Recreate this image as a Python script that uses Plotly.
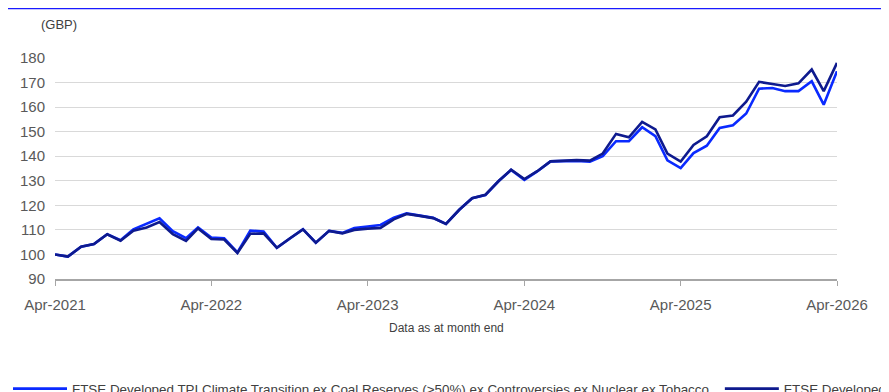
import pandas as pd
import plotly.graph_objects as go

# Monthly index levels (GBP), Apr-2021 .. Apr-2026
months = pd.date_range("2021-04-01", "2026-04-01", freq="MS")

tpi_climate = [
    100.0, 99.1, 103.1, 104.2, 108.2, 105.8, 110.2, 112.5, 114.7, 109.5,
    106.6, 111.0, 106.9, 106.6, 100.8, 109.7, 109.3, 102.7, 106.5, 110.3,
    104.8, 109.6, 108.8, 110.8, 111.4, 112.0, 115.0, 116.7, 115.8, 114.9,
    112.4, 118.2, 122.9, 124.2, 129.9, 134.4, 130.4, 133.8, 137.9, 138.1,
    138.1, 137.8, 140.0, 146.1, 146.1, 151.8, 148.2, 138.3, 135.2, 141.3,
    144.3, 151.5, 152.6, 157.4, 167.5, 167.8, 166.5, 166.5, 170.5, 161.0,
    174.6,
]
developed = [
    100.0, 99.1, 103.1, 104.2, 108.2, 105.6, 109.7, 111.0, 113.2, 108.3,
    105.5, 110.6, 106.3, 106.1, 100.6, 108.4, 108.6, 102.7, 106.5, 110.2,
    104.8, 109.6, 108.6, 110.0, 110.5, 110.8, 114.3, 116.5, 115.7, 114.8,
    112.4, 118.2, 122.9, 124.3, 129.9, 134.5, 130.7, 133.9, 137.9, 138.2,
    138.4, 138.2, 141.1, 149.1, 147.7, 154.0, 150.9, 141.1, 137.8, 144.6,
    148.1, 155.9, 156.6, 162.2, 170.3, 169.4, 168.6, 169.7, 175.3, 166.5,
    178.0,
]

names = [
    "FTSE Developed TPI Climate Transition ex Coal Reserves (>50%) ex Controversies ex Nuclear ex Tobacco",
    "FTSE Developed",
]
tick_dates = pd.date_range("2021-04-01", "2026-04-01", freq="12MS")
y_ticks = list(range(90, 190, 10))

font = "Liberation Sans, Arial, sans-serif"
grey = "#595959"

# page body adds an 8px margin, so the figure is sized to fit the window
W, H = 881, 384

fig = go.Figure()
fig.add_trace(
    go.Scatter(x=months, y=tpi_climate, name=names[0], mode="lines",
               line=dict(color="#0a2aff", width=2.6), legend="legend")
)
fig.add_trace(
    go.Scatter(x=months, y=developed, name=names[1], mode="lines",
               line=dict(color="#0e1a8e", width=2.6), legend="legend2")
)

legend_style = dict(
    orientation="h", xref="container", yref="container",
    xanchor="left", yanchor="middle", y=0.008,
    font=dict(family=font, size=13.4, color="#404040"),
    bgcolor="rgba(0,0,0,0)", itemwidth=54,
)

fig.update_layout(
    width=W,
    height=H,
    margin=dict(l=41, r=52, t=50, b=113),
    paper_bgcolor="white",
    plot_bgcolor="white",
    font=dict(family=font, color=grey),
    showlegend=True,
    legend=dict(legend_style, x=0.0),
    legend2=dict(legend_style, x=0.808),
    xaxis=dict(
        range=[months[0], months[-1]],
        tickvals=tick_dates,
        ticktext=[d.strftime("%b-%Y") for d in tick_dates],
        showgrid=False,
        showline=True,
        linecolor="#a6a6a6",
        linewidth=1.5,
        ticks="outside",
        ticklen=5,
        tickcolor="#a6a6a6",
        ticklabelstandoff=6,
        tickfont=dict(size=15, color=grey),
        zeroline=False,
    ),
    yaxis=dict(
        range=[90, 180],
        tickvals=y_ticks,
        showgrid=True,
        gridcolor="#d9d9d9",
        gridwidth=1.2,
        showline=False,
        zeroline=False,
        ticks="",
        ticklabelstandoff=9,
        tickfont=dict(size=15, color=grey),
    ),
    shapes=[
        dict(type="line", xref="paper", yref="paper",
             x0=-0.07, x1=1.08, y0=1.224, y1=1.224,
             line=dict(color="#1a1aff", width=1.5)),
    ],
    annotations=[
        dict(text="(GBP)", xref="paper", yref="paper", x=-0.021, y=1.15,
             xanchor="left", yanchor="middle", showarrow=False,
             font=dict(size=13, color="#404040")),
        dict(text="Data as at month end", xref="paper", yref="paper",
             x=0.5, y=-0.22, xanchor="center", yanchor="middle",
             showarrow=False, font=dict(size=12, color="#404040")),
    ],
)

fig.write_html("out.html")
